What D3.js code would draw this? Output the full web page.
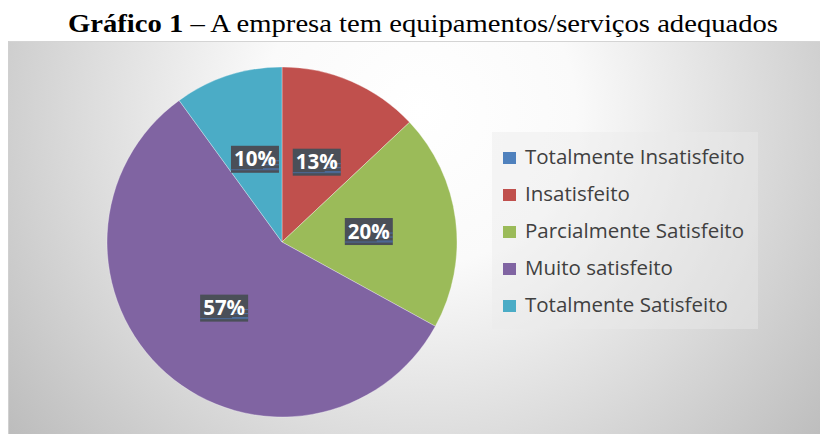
<!DOCTYPE html>
<html>
<head>
<meta charset="utf-8">
<script src="https://cdn.jsdelivr.net/npm/d3@7"></script>
<style>
  html, body { margin: 0; padding: 0; background: #ffffff; }
  svg { display: block; }
</style>
</head>
<body>
<svg id="chart" width="820" height="434"></svg>
<script>
// ---- data ----
const categories = ["Totalmente Insatisfeito", "Insatisfeito", "Parcialmente Satisfeito", "Muito satisfeito", "Totalmente Satisfeito"];
const values = [0, 13, 20, 57, 10];
const colors = ["#4f81bd", "#c0504d", "#9bbb59", "#8064a2", "#4bacc6"];
const titleBold = "Gráfico 1";
const titleRest = " – A empresa tem equipamentos/serviços adequados";

const svg = d3.select("#chart");
const W = 820, H = 434;

// background gradient
const defs = svg.append("defs");
const grad = defs.append("radialGradient")
  .attr("id", "bg").attr("gradientUnits", "userSpaceOnUse")
  .attr("cx", 420).attr("cy", 110).attr("r", 520);
grad.append("stop").attr("offset", 0).attr("stop-color", "#ffffff");
grad.append("stop").attr("offset", 0.3).attr("stop-color", "#fafafa");
grad.append("stop").attr("offset", 1).attr("stop-color", "#bdbdbd");

svg.append("rect").attr("x", 8).attr("y", 41).attr("width", W - 8).attr("height", H - 41)
  .attr("fill", "url(#bg)");
svg.append("line").attr("x1", 8).attr("x2", W).attr("y1", 41.5).attr("y2", 41.5)
  .attr("stroke", "#d4d4d4").attr("stroke-width", 1);
svg.append("line").attr("x1", 8.5).attr("x2", 8.5).attr("y1", 41).attr("y2", H)
  .attr("stroke", "#d0d0d0").attr("stroke-width", 1);

// title
const title = svg.append("text").attr("x", 68).attr("y", 32)
  .attr("font-family", "'Liberation Serif', 'DejaVu Serif', serif")
  .attr("font-size", 25).attr("fill", "#000")
  .attr("textLength", 710).attr("lengthAdjust", "spacingAndGlyphs");
title.append("tspan").attr("font-weight", "bold").text(titleBold);
title.append("tspan").text(titleRest);

// pie
const cx = 282, cy = 242, R = 175;
const pie = d3.pie().sort(null).value(d => d)(values);
const arc = d3.arc().innerRadius(0).outerRadius(R);
const g = svg.append("g").attr("transform", `translate(${cx},${cy})`);
g.selectAll("path.slice").data(pie).enter().append("path")
  .attr("class", "slice")
  .attr("d", arc)
  .attr("fill", (d, i) => colors[i])
  .attr("stroke", "#ffffff").attr("stroke-opacity", 0.4).attr("stroke-width", 0.8);

// labels
const total = d3.sum(values);
const labelArc = d3.arc().innerRadius(0).outerRadius(R);
const lab = g.selectAll("g.lab").data(pie.filter(d => d.value > 0)).enter().append("g")
  .attr("class", "lab")
  .attr("transform", d => { const c = labelArc.centroid(d); return `translate(${c[0]},${c[1]})`; });
lab.append("rect").attr("x", -24).attr("y", -13).attr("width", 48).attr("height", 27)
  .attr("fill", "#4a4f58");
[2, 6, 10].forEach(yy => {
  lab.append("line").attr("x1", 8).attr("x2", 24).attr("y1", yy).attr("y2", yy)
    .attr("stroke", "#4f7fc6").attr("stroke-width", 1).attr("stroke-opacity", 0.7);
});
lab.append("line").attr("x1", -24).attr("x2", 24).attr("y1", 11).attr("y2", 11)
  .attr("stroke", "#4f7fc6").attr("stroke-width", 1).attr("stroke-opacity", 0.6);
lab.append("text").attr("text-anchor", "middle").attr("y", 7.5)
  .attr("font-family", "'Open Sans', 'Noto Sans', sans-serif").attr("font-weight", "bold")
  .attr("font-size", 20.5).attr("fill", "#ffffff")
  .text(d => Math.round(d.value / total * 100) + "%");

// legend
const lg = svg.append("g");
lg.append("rect").attr("x", 492).attr("y", 132).attr("width", 266).attr("height", 197)
  .attr("fill", "#ebebeb").attr("fill-opacity", 0.44);
const items = lg.selectAll("g.item").data(categories).enter().append("g")
  .attr("class", "item")
  .attr("transform", (d, i) => `translate(503, ${164 + i * 37})`);
items.append("rect").attr("x", 0).attr("y", -12).attr("width", 13).attr("height", 12)
  .attr("fill", (d, i) => colors[i]);
items.append("text").attr("x", 22).attr("y", 0)
  .attr("font-family", "'Open Sans', 'Noto Sans', sans-serif")
  .attr("font-size", 20.5).attr("fill", "#404040")
  .text(d => d);
</script>
</body>
</html>
